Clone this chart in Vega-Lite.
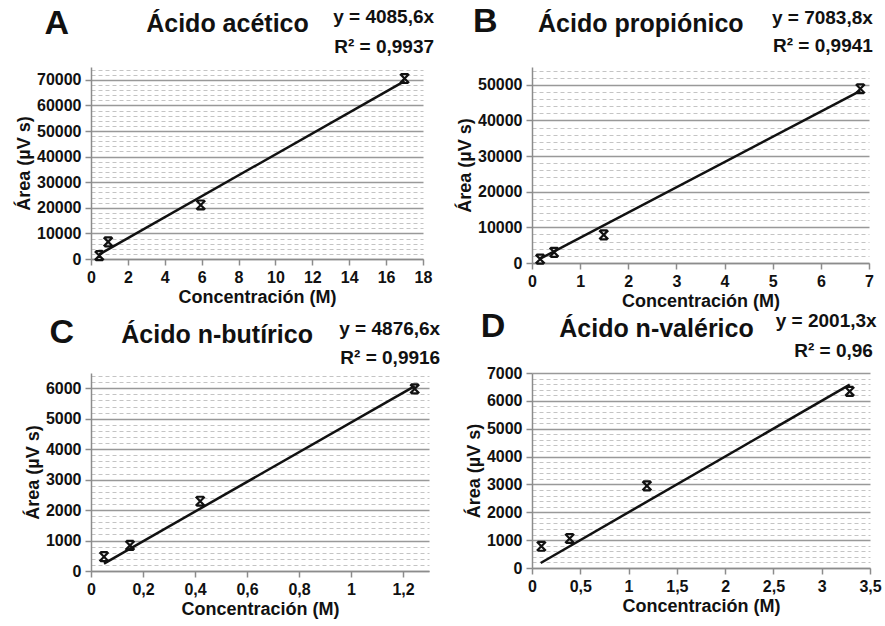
{
  "$schema": "https://vega.github.io/schema/vega-lite/v6.json",
  "background": "white",
  "padding": {"left": 15, "top": 4, "right": 4, "bottom": 4},
  "columns": 2,
  "spacing": {"column": 15, "row": 0},
  "config": {
    "view": {"stroke": null},
    "font": "Liberation Sans",
    "axis": {
      "labelFont": "Liberation Sans", "labelFontWeight": "bold", "labelFontSize": 16, "labelColor": "#111111",
      "titleFont": "Liberation Sans", "titleFontWeight": "bold", "titleFontSize": 18, "titleColor": "#111111",
      "domainColor": "#8c8c8c", "domainWidth": 1.5, "tickColor": "#8c8c8c", "tickWidth": 1.5, "tickSize": 6,
      "labelPadding": 4, "gridColor": "#999999", "gridWidth": 1.7
    },
    "axisX": {"titlePadding": 3, "labelFlush": false},
    "axisY": {"titlePadding": 3}
  },
  "datasets": {
    "A_pts": [{"conc": 0.45, "area": 1300}, {"conc": 0.93, "area": 6700}, {"conc": 5.95, "area": 21100}, {"conc": 17.0, "area": 70500}],
    "A_fit": [{"conc": 0.45, "area": 1839}, {"conc": 17.0, "area": 69455}],
    "B_pts": [{"conc": 0.17, "area": 1100}, {"conc": 0.46, "area": 3000}, {"conc": 1.49, "area": 7900}, {"conc": 6.82, "area": 48900}],
    "B_fit": [{"conc": 0.17, "area": 1204}, {"conc": 6.82, "area": 48312}],
    "C_pts": [{"conc": 0.05, "area": 470}, {"conc": 0.15, "area": 840}, {"conc": 0.42, "area": 2290}, {"conc": 1.245, "area": 5980}],
    "C_fit": [{"conc": 0.05, "area": 244}, {"conc": 1.245, "area": 6071}],
    "D_pts": [{"conc": 0.097, "area": 780}, {"conc": 0.39, "area": 1060}, {"conc": 1.19, "area": 2950}, {"conc": 3.29, "area": 6340}],
    "D_fit": [{"conc": 0.09, "area": 180}, {"conc": 3.29, "area": 6584}]
  },
  "concat": [
    {
      "width": 332, "height": 192,
      "resolve": {"axis": {"x": "independent", "y": "independent"}},
      "layer": [
        {
          "data": {"name": "A_pts"},
          "mark": {"type": "point", "opacity": 0},
          "encoding": {
            "x": {"field": "conc", "type": "quantitative", "scale": {"domain": [0, 18], "nice": false, "zero": false}, "axis": null},
            "y": {"field": "area", "type": "quantitative", "scale": {"domain": [0, 75000], "nice": false, "zero": false},
                  "axis": {"orient": "left", "values": [2000,4000,6000,8000,12000,14000,16000,18000,22000,24000,26000,28000,32000,34000,36000,38000,42000,44000,46000,48000,52000,54000,56000,58000,62000,64000,66000,68000,72000,74000],
                           "grid": true, "gridDash": [4, 3], "gridColor": "#c4c4c4", "gridWidth": 1, "labels": false, "ticks": false, "domain": false, "title": null}}
          }
        },
        {
          "data": {"name": "A_pts"},
          "mark": {"type": "point", "shape": "M-1,-1L1,1M1,-1L-1,1M-0.8,-1L0.8,-1M-0.8,1L0.8,1", "filled": false, "stroke": "#111111", "strokeWidth": 2.2, "size": 80, "opacity": 1},
          "encoding": {
            "x": {"field": "conc", "type": "quantitative", "axis": {"orient": "bottom", "values": [0,2,4,6,8,10,12,14,16,18], "grid": false, "title": "Concentración (M)"}},
            "y": {"field": "area", "type": "quantitative", "axis": {"orient": "left", "values": [0,10000,20000,30000,40000,50000,60000,70000], "format": "d", "grid": true, "title": "Área (µV s)"}}
          }
        },
        {
          "data": {"name": "A_fit"},
          "mark": {"type": "line", "color": "#111111", "strokeWidth": 2.5},
          "encoding": {
            "x": {"field": "conc", "type": "quantitative", "axis": null},
            "y": {"field": "area", "type": "quantitative", "axis": null}
          }
        },
        {
          "data": {"values": [{"t": "A"}]},
          "mark": {"type": "text", "font": "Liberation Sans", "fontWeight": "bold", "fontSize": 34, "align": "center", "baseline": "alphabetic", "color": "#111111"},
          "encoding": {"text": {"field": "t"}, "x": {"datum": -1.85, "type": "quantitative", "axis": null}, "y": {"datum": 88000, "type": "quantitative", "axis": null}}
        },
        {
          "data": {"values": [{"t": "Ácido acético"}]},
          "mark": {"type": "text", "font": "Liberation Sans", "fontWeight": "bold", "fontSize": 25, "align": "center", "baseline": "alphabetic", "color": "#111111"},
          "encoding": {"text": {"field": "t"}, "x": {"datum": 7.4, "type": "quantitative", "axis": null}, "y": {"datum": 88700, "type": "quantitative", "axis": null}}
        },
        {
          "data": {"values": [{"t": "y = 4085,6x"}]},
          "mark": {"type": "text", "font": "Liberation Sans", "fontWeight": "bold", "fontSize": 19, "align": "right", "baseline": "alphabetic", "color": "#111111"},
          "encoding": {"text": {"field": "t"}, "x": {"datum": 18.6, "type": "quantitative", "axis": null}, "y": {"datum": 92200, "type": "quantitative", "axis": null}}
        },
        {
          "data": {"values": [{"t": "R² = 0,9937"}]},
          "mark": {"type": "text", "font": "Liberation Sans", "fontWeight": "bold", "fontSize": 19, "align": "right", "baseline": "alphabetic", "color": "#111111"},
          "encoding": {"text": {"field": "t"}, "x": {"datum": 18.6, "type": "quantitative", "axis": null}, "y": {"datum": 80500, "type": "quantitative", "axis": null}}
        }
      ]
    },
    {
      "width": 337, "height": 196,
      "resolve": {"axis": {"x": "independent", "y": "independent"}},
      "layer": [
        {
          "data": {"name": "B_pts"},
          "mark": {"type": "point", "opacity": 0},
          "encoding": {
            "x": {"field": "conc", "type": "quantitative", "scale": {"domain": [0, 7], "nice": false, "zero": false}, "axis": null},
            "y": {"field": "area", "type": "quantitative", "scale": {"domain": [0, 55000], "nice": false, "zero": false},
                  "axis": {"orient": "left", "values": [2000,4000,6000,8000,12000,14000,16000,18000,22000,24000,26000,28000,32000,34000,36000,38000,42000,44000,46000,48000,52000,54000],
                           "grid": true, "gridDash": [4, 3], "gridColor": "#c4c4c4", "gridWidth": 1, "labels": false, "ticks": false, "domain": false, "title": null}}
          }
        },
        {
          "data": {"name": "B_pts"},
          "mark": {"type": "point", "shape": "M-1,-1L1,1M1,-1L-1,1M-0.8,-1L0.8,-1M-0.8,1L0.8,1", "filled": false, "stroke": "#111111", "strokeWidth": 2.2, "size": 80, "opacity": 1},
          "encoding": {
            "x": {"field": "conc", "type": "quantitative", "axis": {"orient": "bottom", "values": [0,1,2,3,4,5,6,7], "grid": false, "title": "Concentración (M)"}},
            "y": {"field": "area", "type": "quantitative", "axis": {"orient": "left", "values": [0,10000,20000,30000,40000,50000], "format": "d", "grid": true, "title": "Área (µV s)"}}
          }
        },
        {
          "data": {"name": "B_fit"},
          "mark": {"type": "line", "color": "#111111", "strokeWidth": 2.5},
          "encoding": {
            "x": {"field": "conc", "type": "quantitative", "axis": null},
            "y": {"field": "area", "type": "quantitative", "axis": null}
          }
        },
        {
          "data": {"values": [{"t": "B"}]},
          "mark": {"type": "text", "font": "Liberation Sans", "fontWeight": "bold", "fontSize": 34, "align": "center", "baseline": "alphabetic", "color": "#111111"},
          "encoding": {"text": {"field": "t"}, "x": {"datum": -0.97, "type": "quantitative", "axis": null}, "y": {"datum": 64900, "type": "quantitative", "axis": null}}
        },
        {
          "data": {"values": [{"t": "Ácido propiónico"}]},
          "mark": {"type": "text", "font": "Liberation Sans", "fontWeight": "bold", "fontSize": 25, "align": "center", "baseline": "alphabetic", "color": "#111111"},
          "encoding": {"text": {"field": "t"}, "x": {"datum": 2.26, "type": "quantitative", "axis": null}, "y": {"datum": 64900, "type": "quantitative", "axis": null}}
        },
        {
          "data": {"values": [{"t": "y = 7083,8x"}]},
          "mark": {"type": "text", "font": "Liberation Sans", "fontWeight": "bold", "fontSize": 19, "align": "right", "baseline": "alphabetic", "color": "#111111"},
          "encoding": {"text": {"field": "t"}, "x": {"datum": 7.08, "type": "quantitative", "axis": null}, "y": {"datum": 67100, "type": "quantitative", "axis": null}}
        },
        {
          "data": {"values": [{"t": "R² = 0,9941"}]},
          "mark": {"type": "text", "font": "Liberation Sans", "fontWeight": "bold", "fontSize": 19, "align": "right", "baseline": "alphabetic", "color": "#111111"},
          "encoding": {"text": {"field": "t"}, "x": {"datum": 7.08, "type": "quantitative", "axis": null}, "y": {"datum": 59200, "type": "quantitative", "axis": null}}
        }
      ]
    },
    {
      "width": 338, "height": 198,
      "resolve": {"axis": {"x": "independent", "y": "independent"}},
      "layer": [
        {
          "data": {"name": "C_pts"},
          "mark": {"type": "point", "opacity": 0},
          "encoding": {
            "x": {"field": "conc", "type": "quantitative", "scale": {"domain": [0, 1.3], "nice": false, "zero": false}, "axis": null},
            "y": {"field": "area", "type": "quantitative", "scale": {"domain": [0, 6500], "nice": false, "zero": false},
                  "axis": {"orient": "left", "values": [200,400,600,800,1200,1400,1600,1800,2200,2400,2600,2800,3200,3400,3600,3800,4200,4400,4600,4800,5200,5400,5600,5800,6200,6400],
                           "grid": true, "gridDash": [4, 3], "gridColor": "#c4c4c4", "gridWidth": 1, "labels": false, "ticks": false, "domain": false, "title": null}}
          }
        },
        {
          "data": {"name": "C_pts"},
          "mark": {"type": "point", "shape": "M-1,-1L1,1M1,-1L-1,1M-0.8,-1L0.8,-1M-0.8,1L0.8,1", "filled": false, "stroke": "#111111", "strokeWidth": 2.2, "size": 80, "opacity": 1},
          "encoding": {
            "x": {"field": "conc", "type": "quantitative", "axis": {"orient": "bottom", "values": [0,0.2,0.4,0.6,0.8,1,1.2], "labelExpr": "replace(toString(datum.value), '.', ',')", "grid": false, "title": "Concentración (M)"}},
            "y": {"field": "area", "type": "quantitative", "axis": {"orient": "left", "values": [0,1000,2000,3000,4000,5000,6000], "format": "d", "grid": true, "title": "Área (µV s)"}}
          }
        },
        {
          "data": {"name": "C_fit"},
          "mark": {"type": "line", "color": "#111111", "strokeWidth": 2.5},
          "encoding": {
            "x": {"field": "conc", "type": "quantitative", "axis": null},
            "y": {"field": "area", "type": "quantitative", "axis": null}
          }
        },
        {
          "data": {"values": [{"t": "C"}]},
          "mark": {"type": "text", "font": "Liberation Sans", "fontWeight": "bold", "fontSize": 34, "align": "center", "baseline": "alphabetic", "color": "#111111"},
          "encoding": {"text": {"field": "t"}, "x": {"datum": -0.112, "type": "quantitative", "axis": null}, "y": {"datum": 7490, "type": "quantitative", "axis": null}}
        },
        {
          "data": {"values": [{"t": "Ácido n-butírico"}]},
          "mark": {"type": "text", "font": "Liberation Sans", "fontWeight": "bold", "fontSize": 25, "align": "center", "baseline": "alphabetic", "color": "#111111"},
          "encoding": {"text": {"field": "t"}, "x": {"datum": 0.485, "type": "quantitative", "axis": null}, "y": {"datum": 7490, "type": "quantitative", "axis": null}}
        },
        {
          "data": {"values": [{"t": "y = 4876,6x"}]},
          "mark": {"type": "text", "font": "Liberation Sans", "fontWeight": "bold", "fontSize": 19, "align": "right", "baseline": "alphabetic", "color": "#111111"},
          "encoding": {"text": {"field": "t"}, "x": {"datum": 1.343, "type": "quantitative", "axis": null}, "y": {"datum": 7760, "type": "quantitative", "axis": null}}
        },
        {
          "data": {"values": [{"t": "R² = 0,9916"}]},
          "mark": {"type": "text", "font": "Liberation Sans", "fontWeight": "bold", "fontSize": 19, "align": "right", "baseline": "alphabetic", "color": "#111111"},
          "encoding": {"text": {"field": "t"}, "x": {"datum": 1.343, "type": "quantitative", "axis": null}, "y": {"datum": 6780, "type": "quantitative", "axis": null}}
        }
      ]
    },
    {
      "width": 338, "height": 195,
      "resolve": {"axis": {"x": "independent", "y": "independent"}},
      "layer": [
        {
          "data": {"name": "D_pts"},
          "mark": {"type": "point", "opacity": 0},
          "encoding": {
            "x": {"field": "conc", "type": "quantitative", "scale": {"domain": [0, 3.5], "nice": false, "zero": false}, "axis": null},
            "y": {"field": "area", "type": "quantitative", "scale": {"domain": [0, 7000], "nice": false, "zero": false},
                  "axis": {"orient": "left", "values": [200,400,600,800,1200,1400,1600,1800,2200,2400,2600,2800,3200,3400,3600,3800,4200,4400,4600,4800,5200,5400,5600,5800,6200,6400,6600,6800],
                           "grid": true, "gridDash": [4, 3], "gridColor": "#c4c4c4", "gridWidth": 1, "labels": false, "ticks": false, "domain": false, "title": null}}
          }
        },
        {
          "data": {"name": "D_pts"},
          "mark": {"type": "point", "shape": "M-1,-1L1,1M1,-1L-1,1M-0.8,-1L0.8,-1M-0.8,1L0.8,1", "filled": false, "stroke": "#111111", "strokeWidth": 2.2, "size": 80, "opacity": 1},
          "encoding": {
            "x": {"field": "conc", "type": "quantitative", "axis": {"orient": "bottom", "values": [0,0.5,1,1.5,2,2.5,3,3.5], "labelExpr": "replace(toString(datum.value), '.', ',')", "grid": false, "title": "Concentración (M)"}},
            "y": {"field": "area", "type": "quantitative", "axis": {"orient": "left", "values": [0,1000,2000,3000,4000,5000,6000,7000], "format": "d", "grid": true, "title": "Área (µV s)"}}
          }
        },
        {
          "data": {"name": "D_fit"},
          "mark": {"type": "line", "color": "#111111", "strokeWidth": 2.5},
          "encoding": {
            "x": {"field": "conc", "type": "quantitative", "axis": null},
            "y": {"field": "area", "type": "quantitative", "axis": null}
          }
        },
        {
          "data": {"values": [{"t": "D"}]},
          "mark": {"type": "text", "font": "Liberation Sans", "fontWeight": "bold", "fontSize": 34, "align": "center", "baseline": "alphabetic", "color": "#111111"},
          "encoding": {"text": {"field": "t"}, "x": {"datum": -0.404, "type": "quantitative", "axis": null}, "y": {"datum": 8280, "type": "quantitative", "axis": null}}
        },
        {
          "data": {"values": [{"t": "Ácido n-valérico"}]},
          "mark": {"type": "text", "font": "Liberation Sans", "fontWeight": "bold", "fontSize": 25, "align": "center", "baseline": "alphabetic", "color": "#111111"},
          "encoding": {"text": {"field": "t"}, "x": {"datum": 1.289, "type": "quantitative", "axis": null}, "y": {"datum": 8280, "type": "quantitative", "axis": null}}
        },
        {
          "data": {"values": [{"t": "y = 2001,3x"}]},
          "mark": {"type": "text", "font": "Liberation Sans", "fontWeight": "bold", "fontSize": 19, "align": "right", "baseline": "alphabetic", "color": "#111111"},
          "encoding": {"text": {"field": "t"}, "x": {"datum": 3.569, "type": "quantitative", "axis": null}, "y": {"datum": 8640, "type": "quantitative", "axis": null}}
        },
        {
          "data": {"values": [{"t": "R² = 0,96"}]},
          "mark": {"type": "text", "font": "Liberation Sans", "fontWeight": "bold", "fontSize": 19, "align": "right", "baseline": "alphabetic", "color": "#111111"},
          "encoding": {"text": {"field": "t"}, "x": {"datum": 3.53, "type": "quantitative", "axis": null}, "y": {"datum": 7560, "type": "quantitative", "axis": null}}
        }
      ]
    }
  ]
}
